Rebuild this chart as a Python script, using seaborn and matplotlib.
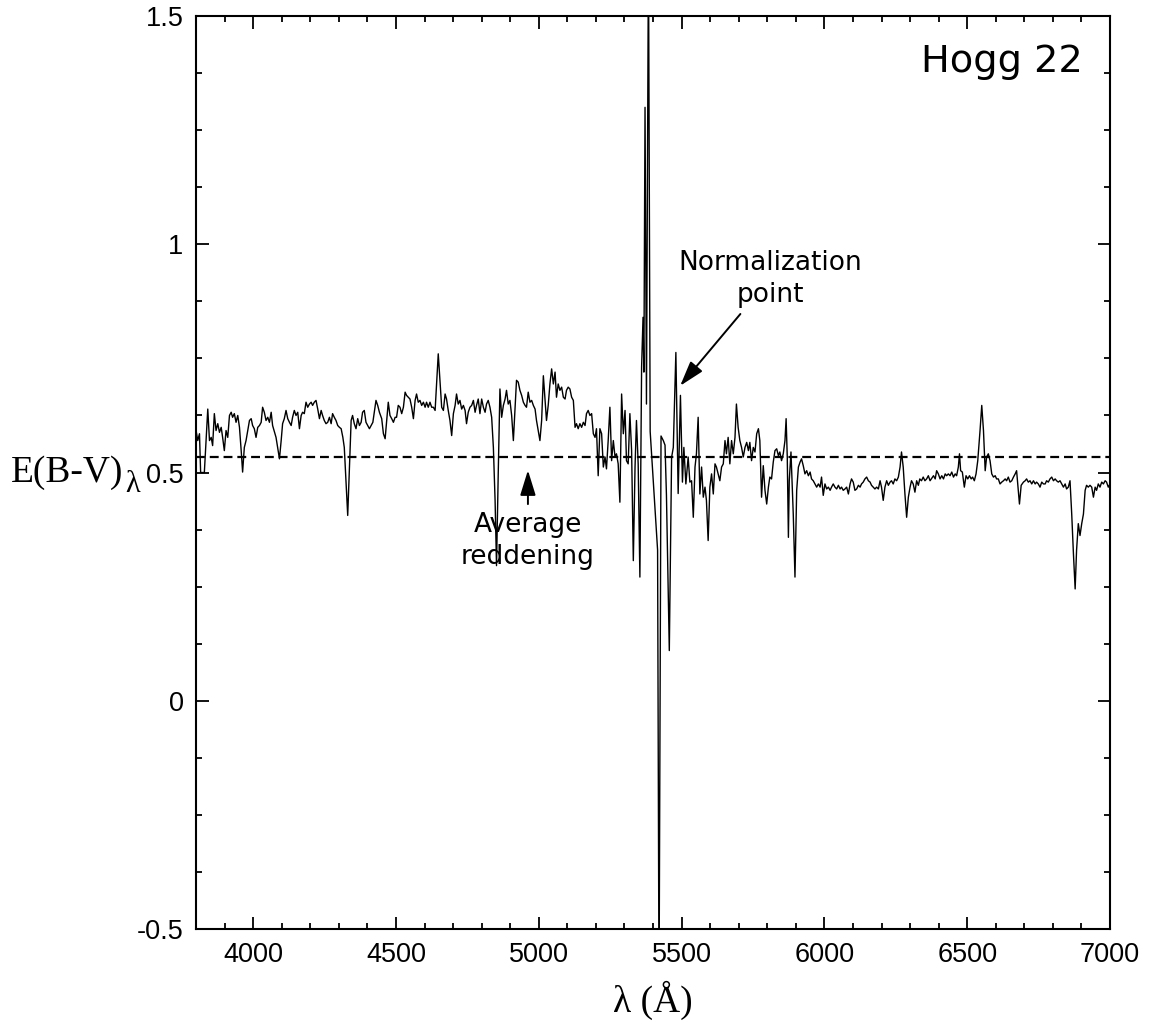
import numpy as np
import pandas as pd
import seaborn as sns
import matplotlib.pyplot as plt
from matplotlib.ticker import MultipleLocator, FuncFormatter

# spectrum, split in three pieces
wl_blue = [3800, 3806, 3812, 3816, 3829, 3835, 3841, 3847, 3853, 3858, 3864, 3870, 3876, 3882,
           3888, 3893, 3899, 3905, 3911, 3917, 3923, 3928, 3934, 3940, 3946, 3952, 3958, 3963,
           3969, 3975, 3987, 3993, 3998, 4004, 4010, 4016, 4022, 4028, 4033, 4039, 4045, 4051,
           4057, 4063, 4068, 4080, 4092, 4098, 4103, 4109, 4115, 4121, 4127, 4133, 4138, 4144,
           4150, 4156, 4162, 4168, 4173, 4179, 4185, 4191, 4197, 4203, 4208, 4214, 4220, 4226,
           4232, 4238, 4243, 4249, 4255, 4261, 4267, 4273, 4278, 4284, 4290, 4296, 4302, 4308,
           4314, 4319, 4325, 4331, 4337, 4343, 4348, 4354, 4360, 4366, 4372, 4378, 4383, 4389,
           4395, 4401, 4407, 4413, 4419, 4424, 4430, 4436, 4442]
ebv_blue = [0.592, 0.570, 0.585, 0.500, 0.500, 0.570, 0.639, 0.570, 0.577, 0.559, 0.629, 0.592, 0.607, 0.588,
            0.599, 0.577, 0.548, 0.592, 0.577, 0.625, 0.632, 0.621, 0.629, 0.610, 0.625, 0.599, 0.548, 0.501,
            0.555, 0.570, 0.614, 0.618, 0.603, 0.596, 0.577, 0.599, 0.603, 0.610, 0.643, 0.632, 0.614, 0.621,
            0.610, 0.632, 0.603, 0.577, 0.530, 0.570, 0.607, 0.618, 0.636, 0.618, 0.610, 0.603, 0.621, 0.636,
            0.625, 0.632, 0.596, 0.625, 0.632, 0.629, 0.654, 0.643, 0.650, 0.654, 0.647, 0.654, 0.658, 0.639,
            0.618, 0.636, 0.625, 0.614, 0.607, 0.610, 0.621, 0.607, 0.629, 0.621, 0.614, 0.603, 0.599, 0.596,
            0.577, 0.555, 0.482, 0.406, 0.512, 0.614, 0.625, 0.607, 0.596, 0.618, 0.603, 0.610, 0.632, 0.636,
            0.610, 0.603, 0.596, 0.603, 0.610, 0.632, 0.658, 0.647, 0.632]

wl_mid = [4450, 4456, 4462, 4467, 4473, 4479, 4485, 4491, 4497, 4502, 4508, 4514, 4520, 4526,
          4532, 4537, 4543, 4549, 4555, 4561, 4567, 4572, 4578, 4584, 4590, 4596, 4602, 4607,
          4613, 4619, 4625, 4631, 4637, 4642, 4648, 4654, 4660, 4666, 4672, 4677, 4683, 4689,
          4695, 4701, 4707, 4712, 4718, 4724, 4730, 4736, 4742, 4747, 4753, 4759, 4765, 4771,
          4777, 4782, 4788, 4794, 4800, 4806, 4812, 4817, 4823, 4829, 4835, 4841, 4847, 4852,
          4858, 4864, 4870, 4876, 4882, 4887, 4893, 4899, 4905, 4911, 4917, 4922, 4928, 4934,
          4940, 4946, 4952, 4957, 4963, 4969, 4975, 4981, 4987, 4992, 4998, 5004, 5010, 5016,
          5022, 5027, 5033, 5039, 5045, 5051, 5057, 5062, 5068, 5074, 5080, 5086, 5092, 5097,
          5103, 5109, 5115, 5121, 5127, 5132, 5138, 5144, 5150, 5156, 5162, 5167, 5173, 5179,
          5185, 5191, 5197, 5202, 5208, 5214, 5220, 5226, 5232, 5237, 5243, 5249, 5255, 5261,
          5267, 5272, 5278, 5284, 5290, 5296, 5302, 5307, 5313, 5319, 5325, 5331, 5337, 5342,
          5348, 5354, 5360, 5365, 5368, 5372, 5377, 5384, 5390, 5416, 5421, 5428, 5436, 5442,
          5447, 5457, 5465, 5471, 5480, 5488, 5496, 5503, 5508, 5515, 5523, 5529, 5535, 5541,
          5547, 5552, 5558, 5564, 5570, 5576, 5582, 5587, 5593, 5599, 5605, 5611, 5617, 5622,
          5628, 5634, 5640, 5646, 5652, 5657, 5663, 5669, 5675, 5681, 5687, 5692, 5698, 5704,
          5710, 5716]
ebv_mid = [0.618, 0.585, 0.574, 0.610, 0.654, 0.625, 0.618, 0.610, 0.621, 0.621, 0.647, 0.643, 0.629, 0.643,
           0.676, 0.669, 0.665, 0.661, 0.643, 0.618, 0.658, 0.672, 0.654, 0.658, 0.647, 0.654, 0.643, 0.654,
           0.643, 0.654, 0.643, 0.643, 0.636, 0.694, 0.760, 0.702, 0.643, 0.636, 0.672, 0.661, 0.636, 0.614,
           0.581, 0.629, 0.647, 0.672, 0.650, 0.658, 0.639, 0.647, 0.636, 0.607, 0.632, 0.643, 0.647, 0.658,
           0.632, 0.647, 0.661, 0.629, 0.661, 0.643, 0.632, 0.650, 0.658, 0.643, 0.621, 0.555, 0.439, 0.296,
           0.497, 0.683, 0.621, 0.647, 0.661, 0.680, 0.650, 0.658, 0.625, 0.570, 0.643, 0.702, 0.698, 0.680,
           0.669, 0.654, 0.647, 0.643, 0.676, 0.654, 0.658, 0.647, 0.639, 0.614, 0.592, 0.570, 0.614, 0.712,
           0.658, 0.614, 0.647, 0.694, 0.727, 0.694, 0.720, 0.665, 0.694, 0.680, 0.687, 0.665, 0.661, 0.680,
           0.687, 0.683, 0.665, 0.658, 0.599, 0.607, 0.596, 0.607, 0.599, 0.610, 0.603, 0.629, 0.636, 0.625,
           0.629, 0.585, 0.577, 0.596, 0.493, 0.596, 0.585, 0.512, 0.534, 0.508, 0.570, 0.643, 0.526, 0.570,
           0.534, 0.541, 0.519, 0.435, 0.672, 0.585, 0.636, 0.526, 0.519, 0.629, 0.548, 0.307, 0.512, 0.614,
           0.519, 0.271, 0.731, 0.840, 0.720, 1.300, 0.650, 1.650, 0.590, 0.330, -0.650, 0.580, 0.570, 0.560,
           0.450, 0.110, 0.533, 0.555, 0.763, 0.454, 0.669, 0.479, 0.555, 0.475, 0.534, 0.479, 0.482, 0.402,
           0.512, 0.541, 0.621, 0.453, 0.512, 0.446, 0.468, 0.439, 0.351, 0.468, 0.497, 0.453, 0.519, 0.512,
           0.497, 0.482, 0.512, 0.519, 0.570, 0.541, 0.577, 0.519, 0.570, 0.541, 0.577, 0.650, 0.599, 0.570,
           0.555, 0.534]

wl_red = [5722, 5728, 5734, 5739, 5745, 5751, 5757, 5763, 5769, 5774, 5780, 5786, 5792, 5798,
          5804, 5809, 5815, 5821, 5827, 5833, 5839, 5844, 5850, 5856, 5862, 5866, 5870, 5874,
          5877, 5883, 5891, 5897, 5903, 5909, 5915, 5920, 5926, 5932, 5938, 5944, 5950, 5955,
          5961, 5967, 5973, 5979, 5985, 5990, 5996, 6002, 6008, 6014, 6020, 6025, 6031, 6037,
          6043, 6049, 6055, 6060, 6066, 6072, 6078, 6084, 6090, 6095, 6101, 6107, 6113, 6119,
          6125, 6130, 6136, 6142, 6148, 6154, 6160, 6165, 6171, 6177, 6183, 6189, 6195, 6200,
          6206, 6212, 6218, 6224, 6230, 6235, 6241, 6247, 6253, 6259, 6265, 6270, 6276, 6282,
          6288, 6294, 6300, 6305, 6311, 6317, 6323, 6329, 6334, 6340, 6346, 6352, 6358, 6364,
          6370, 6382, 6388, 6393, 6399, 6405, 6411, 6417, 6423, 6428, 6434, 6440, 6446, 6452,
          6458, 6463, 6469, 6473, 6477, 6483, 6490, 6496, 6502, 6508, 6514, 6519, 6525, 6531,
          6537, 6545, 6551, 6557, 6563, 6568, 6574, 6580, 6586, 6592, 6598, 6603, 6609, 6615,
          6621, 6627, 6633, 6638, 6644, 6650, 6656, 6662, 6668, 6673, 6679, 6683, 6689, 6697,
          6703, 6708, 6714, 6720, 6726, 6732, 6738, 6743, 6749, 6755, 6761, 6767, 6773, 6778,
          6784, 6790, 6796, 6802, 6808, 6813, 6819, 6825, 6831, 6837, 6843, 6848, 6854, 6860,
          6866, 6872, 6878, 6883, 6889, 6895, 6901, 6907, 6913, 6918, 6924, 6930, 6936, 6942,
          6948, 6953, 6959, 6965, 6971, 6977, 6983, 6988, 6994, 7000]
ebv_red = [0.555, 0.566, 0.548, 0.566, 0.526, 0.555, 0.545, 0.585, 0.596, 0.570, 0.446, 0.515, 0.461, 0.431,
           0.468, 0.490, 0.486, 0.523, 0.548, 0.552, 0.537, 0.545, 0.526, 0.541, 0.570, 0.618, 0.534, 0.358,
           0.482, 0.545, 0.409, 0.271, 0.461, 0.512, 0.523, 0.530, 0.515, 0.497, 0.504, 0.493, 0.501, 0.486,
           0.482, 0.475, 0.468, 0.475, 0.468, 0.490, 0.450, 0.475, 0.464, 0.468, 0.461, 0.468, 0.475, 0.468,
           0.464, 0.472, 0.464, 0.468, 0.461, 0.464, 0.468, 0.453, 0.475, 0.486, 0.479, 0.461, 0.464, 0.472,
           0.468, 0.475, 0.479, 0.486, 0.490, 0.482, 0.479, 0.472, 0.468, 0.464, 0.468, 0.464, 0.482, 0.468,
           0.439, 0.468, 0.482, 0.472, 0.479, 0.482, 0.475, 0.486, 0.482, 0.490, 0.512, 0.545, 0.512, 0.453,
           0.402, 0.446, 0.468, 0.482, 0.475, 0.457, 0.482, 0.472, 0.486, 0.482, 0.490, 0.482, 0.486, 0.493,
           0.482, 0.493, 0.486, 0.504, 0.497, 0.486, 0.493, 0.486, 0.497, 0.493, 0.497, 0.493, 0.501, 0.490,
           0.497, 0.493, 0.512, 0.541, 0.504, 0.501, 0.468, 0.493, 0.486, 0.493, 0.486, 0.490, 0.482, 0.497,
           0.526, 0.592, 0.647, 0.592, 0.504, 0.534, 0.541, 0.526, 0.497, 0.490, 0.493, 0.486, 0.486, 0.475,
           0.479, 0.482, 0.486, 0.482, 0.490, 0.479, 0.482, 0.490, 0.497, 0.504, 0.461, 0.431, 0.472, 0.479,
           0.482, 0.486, 0.479, 0.482, 0.475, 0.482, 0.475, 0.479, 0.475, 0.468, 0.479, 0.475, 0.475, 0.482,
           0.479, 0.486, 0.490, 0.482, 0.486, 0.482, 0.479, 0.482, 0.475, 0.468, 0.475, 0.464, 0.468, 0.482,
           0.409, 0.322, 0.245, 0.330, 0.388, 0.362, 0.388, 0.409, 0.461, 0.472, 0.468, 0.472, 0.468, 0.446,
           0.468, 0.461, 0.475, 0.468, 0.479, 0.475, 0.482, 0.479, 0.468, 0.475]

avg_reddening = 0.533
object_name = "Hogg 22"

df = pd.DataFrame({
    "wl": wl_blue + wl_mid + wl_red,
    "ebv": ebv_blue + ebv_mid + ebv_red,
})

sns.set_style("ticks", {"text.color": "black", "xtick.color": "black", "ytick.color": "black",
                        "axes.labelcolor": "black", "axes.edgecolor": "black"})
plt.rcParams["axes.unicode_minus"] = False

fig = plt.figure(figsize=(11.56, 10.27), dpi=100)
ax = fig.add_axes([0.1696, 0.0954, 0.7906, 0.889])

sns.lineplot(data=df, x="wl", y="ebv", ax=ax, color="black", lw=1.0,
             estimator=None, sort=False)
ax.axhline(avg_reddening, color="black", lw=1.6, ls=(0, (4, 2.2)))

ax.set_xlim(3800, 7000)
ax.set_ylim(-0.5, 1.5)
ax.xaxis.set_major_locator(MultipleLocator(500))
ax.xaxis.set_minor_locator(MultipleLocator(100))
ax.yaxis.set_major_locator(MultipleLocator(0.5))
ax.yaxis.set_minor_locator(MultipleLocator(0.125))
ax.yaxis.set_major_formatter(FuncFormatter(lambda v, pos: f"{v:g}"))

ax.tick_params(which="both", direction="in", top=True, right=True, width=1.3, color="black",
               labelcolor="black")
ax.tick_params(which="major", length=9, pad=9, labelsize=19.5, labelfontfamily="Liberation Sans")
ax.tick_params(which="minor", length=4.5)
for s in ax.spines.values():
    s.set_linewidth(1.5)
    s.set_color("black")

ax.set_xlabel("")
ax.set_ylabel("")
# y title: E(B-V) with a lowered lambda, sitting just left of the 0.5 label
ax.text(-0.0799, 0.4896, "E(B-V)", transform=ax.transAxes, ha="right", va="baseline",
        fontsize=27, family="Liberation Serif", color="black")
ax.text(-0.0777, 0.4786, "λ", transform=ax.transAxes, ha="left", va="baseline",
        fontsize=22, family="Liberation Serif", color="black")
ax.text(0.5, -0.078, "λ (Å)", transform=ax.transAxes, ha="center", va="center",
        fontsize=27, family="Liberation Serif", color="black")

ax.text(0.882, 0.9496, object_name, transform=ax.transAxes, ha="center", va="center",
        fontsize=27.5, family="DejaVu Sans", color="black")

arrow = dict(arrowstyle="-|>,head_length=0.55,head_width=0.17", color="black", lw=1.4,
             mutation_scale=28, shrinkA=3, shrinkB=0)
ax.annotate("Average\nreddening", xy=(4962, 0.505), xytext=(4962, 0.351),
            ha="center", va="center", fontsize=19, linespacing=1.3, color="black",
            arrowprops=arrow)
ax.annotate("Normalization\npoint", xy=(5495, 0.69), xytext=(5810, 0.925),
            ha="center", va="center", fontsize=19, linespacing=1.3, color="black",
            arrowprops=arrow)

plt.savefig("out.png", dpi=100)
plt.close()
